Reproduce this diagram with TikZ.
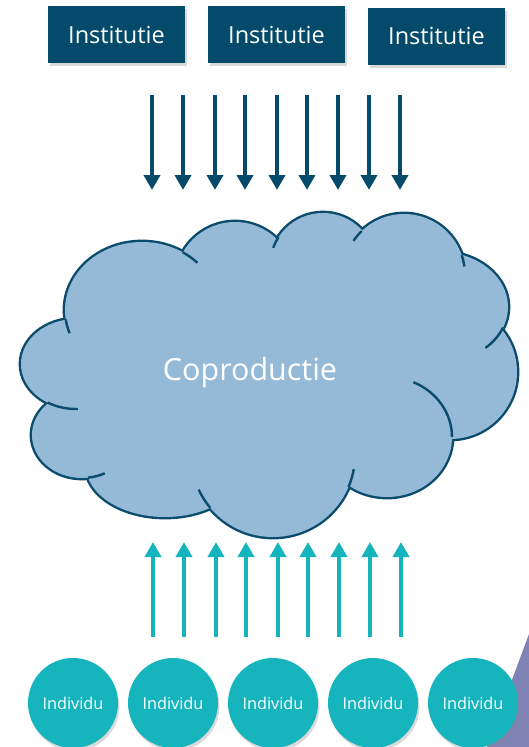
\documentclass[tikz,border=0pt]{standalone}
\usepackage{fontspec}
\setmainfont{Open Sans}
\usepackage{tikz}
\usetikzlibrary{arrows.meta,shadows}

\definecolor{instblue}{HTML}{034A6B}
\definecolor{cloudfill}{HTML}{95BAD8}
\definecolor{cloudline}{HTML}{0B4B6C}
\definecolor{indteal}{HTML}{16B5BE}
\definecolor{sidepurple}{HTML}{7F83B4}

\tikzset{
  inst/.style={fill=instblue,text=white,minimum width=137pt,minimum height=57pt,inner sep=0pt,
    font=\fontsize{23.5}{28}\selectfont,drop shadow={shadow xshift=1.5pt,shadow yshift=-3pt,opacity=.3}},
  indiv/.style={circle,fill=indteal,text=white,minimum size=90pt,inner sep=0pt,
    font=\fontsize{16.3}{19}\selectfont,drop shadow={shadow xshift=1.5pt,shadow yshift=-3pt,opacity=.3}},
  downarrow/.style={instblue,line width=4pt,-{Triangle[width=16pt,length=15pt]}},
  uparrow/.style={indteal,line width=4pt,-{Triangle[width=16pt,length=15pt]}},
  cloudedge/.style={cloudline,line width=2.4pt}
}

\begin{document}
\begin{tikzpicture}[x=1pt,y=-1pt]
      \useasboundingbox (0,0) rectangle (529,747);
      % corner of the next slide shape
      \fill[sidepurple] (529,634) -- (487,747) -- (529,747) -- cycle;
      % institutions on top
      \node[inst] (inst1) at (116.5,34.5) {Institutie};
      \node[inst] (inst2) at (276.5,34.5) {Institutie};
      \node[inst] (inst3) at (436.5,36) {Institutie};
      % arrows in and out of the cloud
      \foreach \x [count=\i] in {152,183,215,245,277,307,338,369,400} {
        \coordinate (dt\i) at (\x,95);
        \coordinate (db\i) at (\x,190);
        \draw[downarrow] (dt\i) -- (db\i);
        \coordinate (ub\i) at (\x+1,637);
        \coordinate (ut\i) at (\x+1,542);
        \draw[uparrow] (ub\i) -- (ut\i);
      }
      % cloud: bumps drawn thick, then filled over
      \foreach \cx/\cy/\rx/\ry in {142/310/77/68,76/364/55/45,82/435/50/43,165/466/79/51,
          273/455/82/82,387/437/65/60,450/372/67/67,440/307/68/55,404/275/61/61,323/266/53/53,235/282/60/60}
        \draw[cloudline,line width=4.8pt] (\cx,\cy) ellipse[x radius=\rx,y radius=\ry];
      \foreach \cx/\cy/\rx/\ry in {142/310/77/68,76/364/55/45,82/435/50/43,165/466/79/51,
          273/455/82/82,387/437/65/60,450/372/67/67,440/307/68/55,404/275/61/61,323/266/53/53,235/282/60/60}
        \fill[cloudfill] (\cx,\cy) ellipse[x radius=\rx,y radius=\ry];
      \fill[cloudfill] (142,310) -- (235,282) -- (323,266) -- (404,275) -- (440,307) -- (450,372)
        -- (387,437) -- (273,455) -- (165,466) -- (82,435) -- (76,364) -- cycle;
      % inner strokes of the cloud
      \foreach \cx/\cy/\rx/\ry/\sa/\ea in {142/310/77/68/172/160,76/364/55/45/121/88,82/435/50/43/83/63,
          273/455/82/82/140/155,273/455/82/82/23/10,387/437/65/60/0/-66,440/307/68/55/22/48,
          404/275/61/61/-19/-8,404/275/61/61/226/214,323/266/53/53/213/200,142/310/77/68/-58/-44}
        \draw[cloudedge] ({\cx+\rx*cos(\sa)},{\cy+\ry*sin(\sa)}) arc[start angle=\sa,end angle=\ea,x radius=\rx,y radius=\ry];
      \node[text=white,anchor=base,font=\fontsize{30.5}{36}\selectfont] (coprod) at (250,380) {Coproductie};
      % individuals at the bottom
      \node[indiv] (ind1) at (73,703) {Individu};
      \node[indiv] (ind2) at (173,703) {Individu};
      \node[indiv] (ind3) at (273,703) {Individu};
      \node[indiv] (ind4) at (373,703) {Individu};
      \node[indiv] (ind5) at (473,703) {Individu};
\end{tikzpicture}
\end{document}
